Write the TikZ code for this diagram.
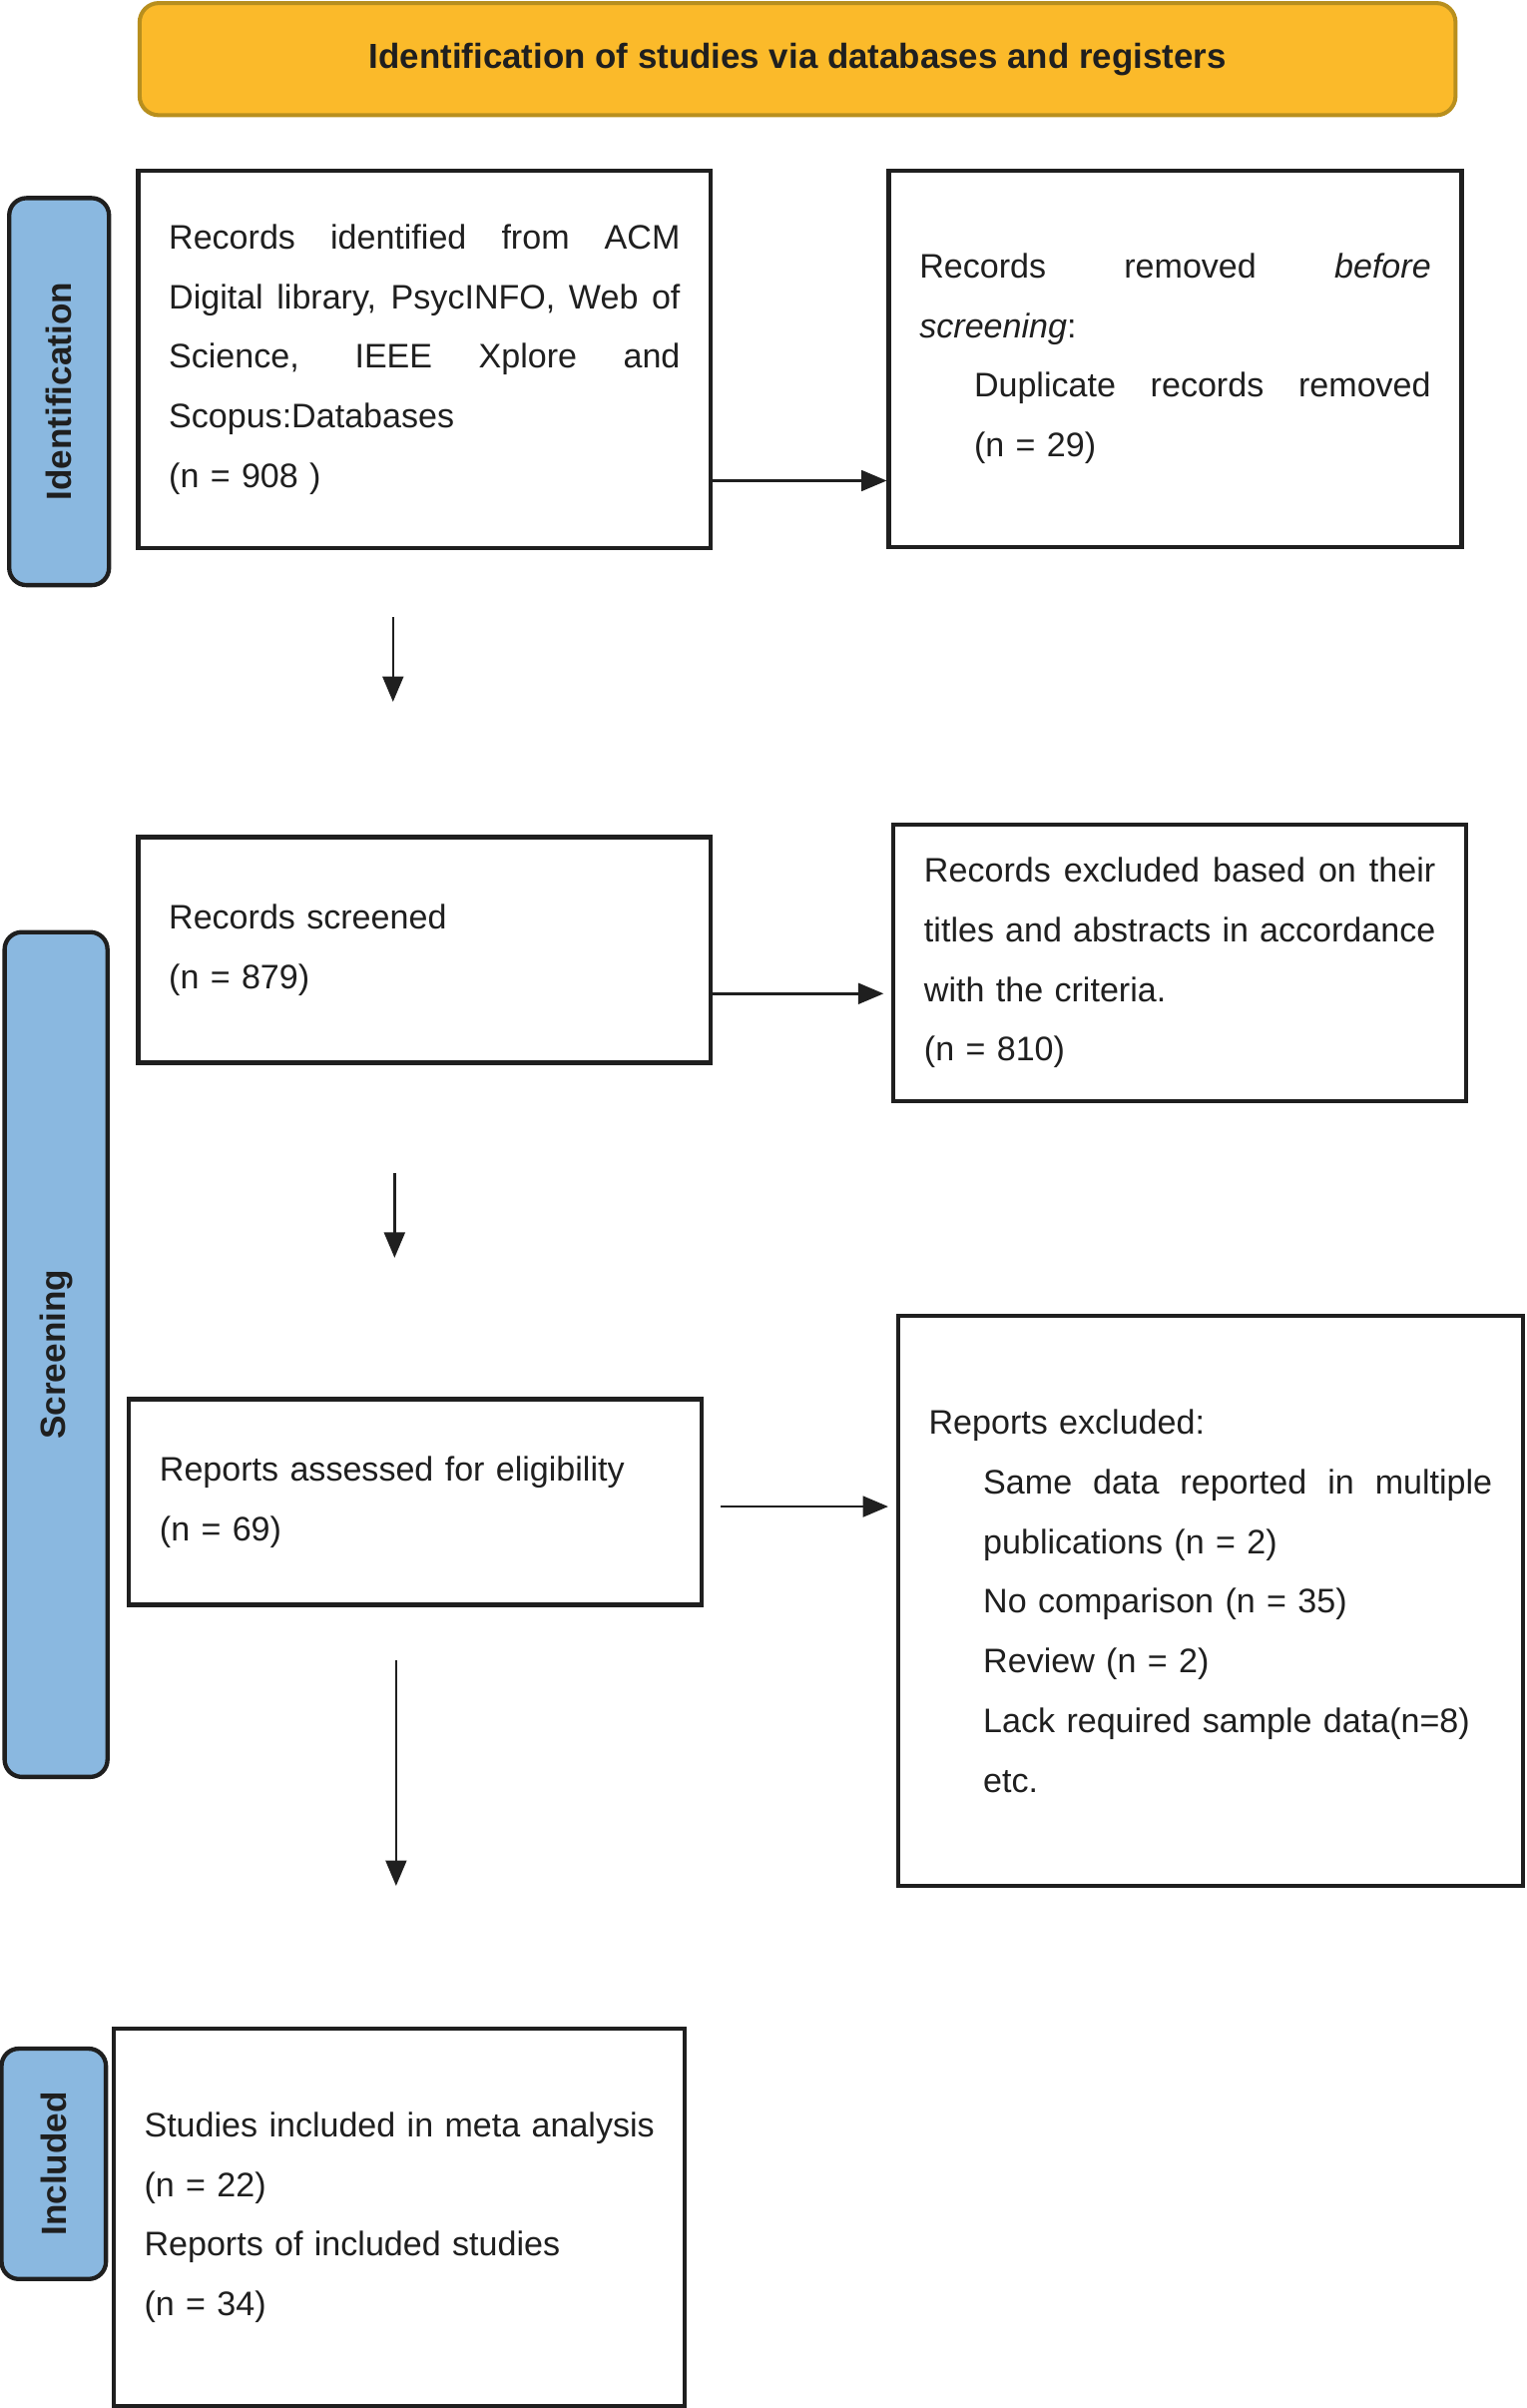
\documentclass[tikz,border=0pt]{standalone}
\usepackage{fontspec}
\usepackage{graphicx}
\setmainfont{Liberation Sans}
\usetikzlibrary{arrows.meta}
\definecolor{titlefill}{HTML}{FBBA2A}
\definecolor{titleborder}{HTML}{B88F1E}
\definecolor{labelfill}{HTML}{8AB8E0}
\definecolor{ink}{HTML}{1F1F1F}
\newlength{\myindent}
\setlength{\myindent}{1.42cm}
\newcommand{\jline}[1]{\leavevmode\hbox to \hsize{\spaceskip=\fontdimen2\font plus 3em\relax #1}}
\newcommand{\ijline}[1]{\leavevmode\hbox to \hsize{\spaceskip=\fontdimen2\font plus 3em\relax\hspace*{\myindent}#1}}
\newcommand{\iline}[1]{\hspace*{\myindent}#1}
\tikzset{
  txt/.style={font=\fontsize{25.2}{44.2}\selectfont, text=ink},
  flowbox/.style={txt, draw=ink, line width=3.2pt, fill=white, rectangle,
    inner xsep=0.8cm, inner ysep=0pt, align=left},
  titlebox/.style={draw=titleborder, line width=3pt, fill=titlefill,
    rounded corners=0.5cm, font=\fontsize{25.8}{30}\selectfont\bfseries, text=ink},
  phase/.style={draw=ink, line width=3.2pt, fill=labelfill, rounded corners=0.45cm,
    font=\fontsize{26}{30}\selectfont\bfseries, text=ink, inner sep=0pt},
  arr/.style={draw=ink, line width=1.9pt, -{Triangle[length=0.66cm,width=0.54cm]}}
}
\begin{document}
\begin{tikzpicture}[x={(0.04cm,0)}, y={(0,-0.04cm)}]
\useasboundingbox (0,0) rectangle (994,1568);

% title
\node[titlebox, minimum width=34.28cm, minimum height=2.92cm] (title) at (519.5,38.5)
  {Identification of studies via databases and registers};

% phase labels
\node[phase, minimum width=2.6cm, minimum height=10.08cm] (ph1) at (38.5,255)
  {\rotatebox{90}{Identification}};
\node[phase, minimum width=2.68cm, minimum height=22cm] (ph2) at (36.5,882)
  {\rotatebox{90}{Screening}};
\node[phase, minimum width=2.72cm, minimum height=6cm] (ph3) at (35,1409)
  {\rotatebox{90}{Included}};

% boxes
\node[flowbox, minimum width=14.92cm, minimum height=9.84cm, text width=13.32cm] (b1) at (276.5,234)
  {\jline{Records identified from ACM}\\
   \jline{Digital library, PsycINFO, Web of}\\
   \jline{Science, IEEE Xplore and}\\
   Scopus:Databases\\
   (n = 908 )};
\node[flowbox, minimum width=14.92cm, minimum height=9.8cm, text width=13.32cm] (b2) at (765.5,233.5)
  {\jline{Records removed \textit{before}}\\
   \textit{screening}:\\
   \ijline{Duplicate records removed}\\
   \iline{(n = 29)}};
\node[flowbox, minimum width=14.92cm, minimum height=5.88cm, text width=13.32cm] (b3) at (276.5,618.5)
  {Records screened\\
   (n = 879)};
\node[flowbox, minimum width=14.92cm, minimum height=7.2cm, text width=13.32cm] (b4) at (768.5,627)
  {\jline{Records excluded based on their}\\
   \jline{titles and abstracts in accordance}\\
   with the criteria.\\
   (n = 810)};
\node[flowbox, minimum width=14.92cm, minimum height=5.36cm, text width=13.32cm] (b5) at (270.5,978)
  {Reports assessed for eligibility\\
   (n = 69)};
\node[flowbox, minimum width=16.28cm, minimum height=14.84cm, text width=14.68cm] (b6) at (788.5,1042.5)
  {Reports excluded:\\
   \ijline{Same data reported in multiple}\\
   \iline{publications (n = 2)}\\
   \iline{No comparison (n = 35)}\\
   \iline{Review (n = 2)}\\
   \iline{Lack required sample data(n=8)}\\
   \iline{etc.}};
\node[flowbox, minimum width=14.88cm, minimum height=9.84cm, text width=13.28cm] (b7) at (260,1444)
  {\mbox{Studies included in meta analysis}\\
   (n = 22)\\
   Reports of included studies\\
   (n = 34)};

% arrow rows
\coordinate (r1) at (0,313);
\coordinate (r2) at (0,647);
\coordinate (r3) at (0,981);
\draw[arr] (b1.east |- r1) -- (b2.west |- r1);
\draw[arr, shorten >=0.2cm] (b3.east |- r2) -- (b4.west |- r2);
\draw[arr, shorten <=0.44cm, shorten >=0.2cm] (b5.east |- r3) -- (b6.west |- r3);

% vertical arrows
\coordinate (d1a) at (256,402);
\coordinate (d1b) at (256,457);
\coordinate (d2a) at (257,764);
\coordinate (d2b) at (257,819);
\coordinate (d3a) at (258,1081);
\coordinate (d3b) at (258,1228);
\draw[arr] (d1a) -- (d1b);
\draw[arr] (d2a) -- (d2b);
\draw[arr] (d3a) -- (d3b);
\end{tikzpicture}
\end{document}
